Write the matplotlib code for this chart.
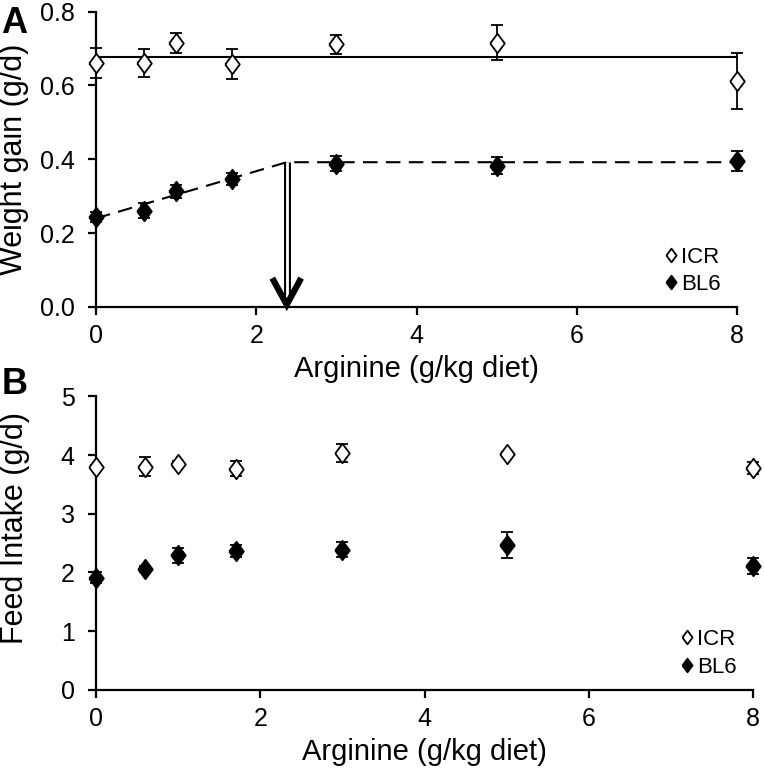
import matplotlib.pyplot as plt
import matplotlib as mpl

mpl.rcParams['font.family'] = ['Liberation Sans', 'DejaVu Sans']

# Data ----------------------------------------------------
arginine = [0, 0.6, 1, 1.7, 3, 5, 8]

icr_gain = [0.661, 0.661, 0.716, 0.659, 0.711, 0.716, 0.612]
icr_gain_err = [0.040, 0.037, 0.027, 0.041, 0.027, 0.047, 0.076]
bl6_gain = [0.243, 0.261, 0.313, 0.347, 0.388, 0.383, 0.396]
bl6_gain_err = [0.013, 0.020, 0.018, 0.016, 0.020, 0.022, 0.027]

icr_fit = 0.678
bl6_intercept = 0.240
bl6_breakpoint = 2.38
bl6_plateau = 0.392

icr_feed = [3.80, 3.80, 3.85, 3.77, 4.03, 4.02, 3.78]
icr_feed_err = [0.03, 0.16, 0.05, 0.12, 0.15, 0.03, 0.10]
bl6_feed = [1.91, 2.06, 2.29, 2.36, 2.39, 2.47, 2.11]
bl6_feed_err = [0.09, 0.05, 0.12, 0.10, 0.13, 0.22, 0.13]

xticks = [0, 2, 4, 6, 8]

# Style ---------------------------------------------------
diamond = [(-0.75, 0), (0, 1), (0.75, 0), (0, -1), (-0.75, 0)]


def style_axes(ax):
    for s in ['top', 'right']:
        ax.spines[s].set_visible(False)
    for s in ['left', 'bottom']:
        ax.spines[s].set_linewidth(1.6)
    ax.tick_params(direction='out', length=5.5, width=1.6, labelsize=18)
    ax.tick_params(axis='y', pad=10)
    ax.tick_params(axis='x', pad=7)
    ax.set_xlim(0, 8)
    ax.set_xticks(xticks)
    ax.set_xlabel('Arginine (g/kg diet)', fontsize=21, labelpad=5)


def draw_series(ax, y, err, fill, label):
    ax.errorbar(arginine, y, yerr=err, fmt='none', ecolor='black',
                elinewidth=1.3, capsize=4.5, capthick=1.3, clip_on=False, zorder=3)
    ax.plot(arginine, y, linestyle='none', marker=diamond, markersize=14,
            markerfacecolor=fill, markeredgecolor='black', markeredgewidth=1.3,
            clip_on=False, zorder=4, label=label)


def add_legend(ax, x0, y0):
    ax.legend(loc='center left', bbox_to_anchor=(x0, y0), frameon=False,
              borderpad=0, handlelength=0.6, handletextpad=0.15,
              labelspacing=0.3, markerscale=0.7, fontsize=16)


fig = plt.figure(figsize=(7.64, 7.75), dpi=100)

# Panel A -------------------------------------------------
ax1 = fig.add_axes([0.1257, 0.604, 0.839, 0.381])
ax1.plot([0, 8], [icr_fit, icr_fit], color='black', lw=1.5, zorder=2)
ax1.plot([0, bl6_breakpoint, 8], [bl6_intercept, bl6_plateau, bl6_plateau],
         color='black', lw=1.5, dashes=(7, 4), zorder=2)
draw_series(ax1, icr_gain, icr_gain_err, 'white', 'ICR')
draw_series(ax1, bl6_gain, bl6_gain_err, 'black', 'BL6')

# breakpoint arrow: double shaft, open V head
ax1.plot([bl6_breakpoint, bl6_breakpoint], [bl6_plateau, 0.01], color='black',
         lw=5, solid_capstyle='butt', zorder=2)
ax1.plot([bl6_breakpoint, bl6_breakpoint], [bl6_plateau, 0.02], color='white',
         lw=2, solid_capstyle='butt', zorder=2)
ax1.plot([bl6_breakpoint - 0.18, bl6_breakpoint, bl6_breakpoint + 0.18],
         [0.078, 0.006, 0.078], color='black', lw=4.5,
         solid_joinstyle='miter', solid_capstyle='butt', zorder=3, clip_on=False)

ax1.set_ylim(0, 0.8)
ax1.set_yticks([0.0, 0.2, 0.4, 0.6, 0.8])
ax1.set_yticklabels(['0.0', '0.2', '0.4', '0.6', '0.8'])
style_axes(ax1)
ax1.set_ylabel('Weight gain (g/d)', fontsize=22)
ax1.yaxis.set_label_coords(-0.104, 0.5)
add_legend(ax1, 0.869, 0.122)

# Panel B -------------------------------------------------
ax2 = fig.add_axes([0.1257, 0.1097, 0.86, 0.379])
draw_series(ax2, icr_feed, icr_feed_err, 'white', 'ICR')
draw_series(ax2, bl6_feed, bl6_feed_err, 'black', 'BL6')
ax2.set_ylim(0, 5)
ax2.set_yticks([0, 1, 2, 3, 4, 5])
style_axes(ax2)
ax2.set_ylabel('Feed Intake (g/d)', fontsize=22)
ax2.yaxis.set_label_coords(-0.101, 0.55)
add_legend(ax2, 0.873, 0.124)

fig.text(0.002, 0.992, 'A', fontsize=26, fontweight='bold', va='top')
fig.text(0.002, 0.527, 'B', fontsize=26, fontweight='bold', va='top')

fig.savefig('out.png', dpi=100)
